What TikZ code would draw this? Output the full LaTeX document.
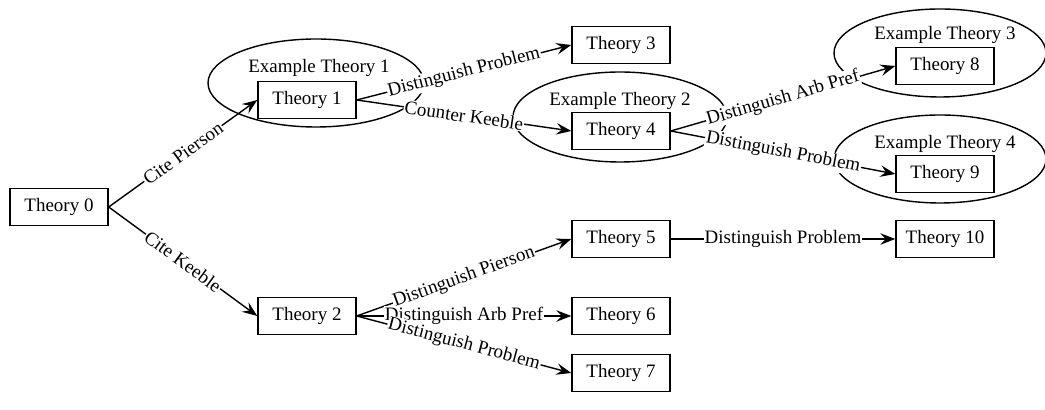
\documentclass[tikz,border=0pt]{standalone}
\usepackage{fontspec}
\setmainfont{Liberation Serif}
\usetikzlibrary{arrows.meta, positioning, shapes.geometric}

\begin{document}
\begin{tikzpicture}[
  font=\fontsize{10.8}{13}\selectfont,
  theory/.style={draw, line width=0.8pt, minimum width=1.96cm, minimum height=0.74cm, inner sep=1pt},
  cluster/.style={draw, ellipse, line width=0.8pt, inner sep=0pt},
  arr/.style={-{Stealth[length=3mm, width=2.3mm, inset=1.1mm]}, line width=0.8pt},
  lbl/.style={fill=white, inner sep=0.5pt, midway, sloped},
]
  \useasboundingbox (0,0) rectangle (20.9,8.2);

  % Clusters
  \node[cluster, minimum width=4.32cm, minimum height=1.76cm] (ex1) at (6.32, 6.54) {};
  \node[cluster, minimum width=4.28cm, minimum height=1.80cm] (ex2) at (12.40, 5.86) {};
  \node[cluster, minimum width=4.24cm, minimum height=1.76cm] (ex3) at (18.80, 7.14) {};
  \node[cluster, minimum width=4.24cm, minimum height=1.76cm] (ex4) at (18.80, 5.02) {};
  \node (ex1lbl) at (6.38, 6.84) {Example Theory 1};
  \node (ex2lbl) at (12.40, 6.18) {Example Theory 2};
  \node (ex3lbl) at (18.90, 7.50) {Example Theory 3};
  \node (ex4lbl) at (18.90, 5.32) {Example Theory 4};

  % Theories
  \node[theory] (t0) at (1.18, 4.06) {Theory 0};
  \node[theory] (t1) at (6.14, 6.20) {Theory 1};
  \node[theory] (t2) at (6.14, 1.88) {Theory 2};
  \node[theory] (t3) at (12.42, 7.30) {Theory 3};
  \node[theory] (t4) at (12.42, 5.58) {Theory 4};
  \node[theory] (t5) at (12.42, 3.42) {Theory 5};
  \node[theory] (t6) at (12.42, 1.88) {Theory 6};
  \node[theory] (t7) at (12.42, 0.74) {Theory 7};
  \node[theory] (t8) at (18.90, 6.88) {Theory 8};
  \node[theory] (t9) at (18.90, 4.72) {Theory 9};
  \node[theory] (t10) at (18.90, 3.42) {Theory 10};

  % Arguments
  \draw[arr] (t0.east) -- (t1.west) node[lbl] {Cite Pierson};
  \draw[arr] (t0.east) -- (t2.west) node[lbl] {Cite Keeble};
  \draw[arr] (t1.east) -- (t3.west) node[lbl] {Distinguish Problem};
  \draw[arr] (t1.east) -- (t4.west) node[lbl] {Counter Keeble};
  \draw[arr] (t4.east) -- (t8.west) node[lbl] {Distinguish Arb Pref};
  \draw[arr] (t4.east) -- (t9.west) node[lbl] {Distinguish Problem};
  \draw[arr] (t2.east) -- (t5.west) node[lbl] {Distinguish Pierson};
  \draw[arr] (t2.east) -- (t6.west) node[lbl] {Distinguish Arb Pref};
  \draw[arr] (t2.east) -- (t7.west) node[lbl] {Distinguish Problem};
  \draw[arr] (t5.east) -- (t10.west) node[lbl] {Distinguish Problem};
\end{tikzpicture}
\end{document}
